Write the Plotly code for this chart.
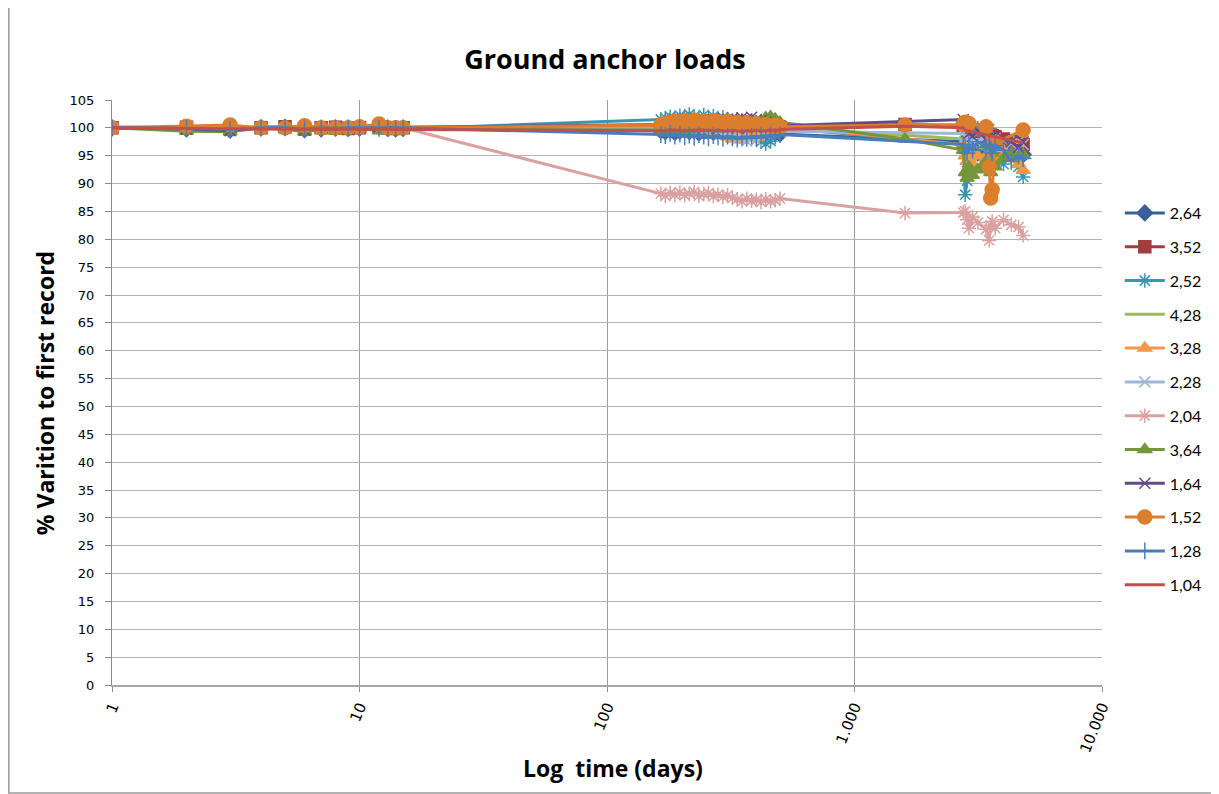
import plotly.graph_objects as go

# ---- data -------------------------------------------------------------
days_early = [1, 2, 3, 4, 5, 6, 7, 8, 9, 10, 12, 13, 14, 15]
days_mid = [165, 172, 180, 188, 197, 206, 215, 225, 235, 246, 257, 269, 281,
            294, 307, 321, 336, 351, 367, 384, 401, 419, 438, 458, 478, 500]
days_late = [1600, 2750, 2800, 2850, 2900, 3000, 3150, 3400, 3500, 3550,
             3600, 3700, 4000, 4300, 4600, 4800]
days = days_early + days_mid + days_late

s_264 = [100.0, 99.8, 99.6, 100.0, 100.1, 99.7, 99.8, 100.0, 99.9, 100.0, 100.2, 99.9, 99.8, 99.9,
         99.5, 99.3, 99.6, 99.2, 99.4, 99.7, 99.3, 99.5, 99.1, 99.4, 99.6, 99.2, 99.5, 99.3, 99.0,
         99.4, 99.2, 98.9, 99.3, 99.1, 99.4, 98.8, 99.0, 99.3, 99.1, 98.9,
         None, 97.5, 96.5, 96.0, 95.5, 96.0, 95.5, 96.2, 95.8, 96.4, 96.0, 95.5, 95.0, 95.8, 95.5, 95.2]
s_352 = [100.0, 100.1, 99.9, 100.0, 100.2, 99.8, 100.0, 100.1, 99.9, 100.0, 100.1, 100.0, 99.9, 100.0,
         100.2, 100.0, 100.3, 99.9, 100.1, 100.4, 100.0, 100.2, 99.8, 100.1, 100.3, 100.0, 99.9, 100.2,
         100.0, 99.8, 100.1, 99.9, 100.2, 99.7, 100.0, 99.8, 100.1, 99.9, 99.7, 100.0,
         100.6, 100.4, 100.2, 100.0, 99.8, 99.6, 99.4, 99.0, 98.8, 98.7, 98.6, 98.4, 98.0, 97.6, 97.3, 97.0]
s_252 = [100.0, 99.7, 99.5, 100.0, 99.9, 99.6, 99.8, 99.9, 100.0, 99.8, 100.0, 99.7, 99.8, 99.8,
         101.5, 101.8, 102.0, 101.6, 102.2, 101.9, 102.4, 102.0, 101.7, 102.3, 101.8, 102.1, 101.5,
         101.9, 101.6, 101.2, 101.4, 100.8, 101.0, 100.5, 99.5, 97.5, 97.2, 97.6, 98.8, 100.0,
         None, 97.0, 88.0, 90.5, 93.0, 99.5, 100.0, 96.0, 99.8, 97.0, 95.0, 94.0, 93.5, 95.5, 93.0, 91.2]
s_428 = [100.0, 100.0, 99.9, 100.0, 100.0, 99.9, 100.0, 100.0, 100.0, 99.9, 100.0, 100.0, 100.0, 100.0,
         100.3, 100.2, 100.4, 100.3, 100.5, 100.2, 100.4, 100.3, 100.6, 100.4, 100.3, 100.5, 100.2,
         100.4, 100.3, 100.1, 100.4, 100.2, 100.3, 100.0, 100.2, 100.1, 100.3, 100.2, 100.0, 100.1,
         None, 98.0, 97.5, 97.0, 96.5, 96.8, 96.5, 96.2, 96.5, 96.3, 96.0, 96.2, 96.0, 95.8, 96.0, 95.8]
s_328 = [100.2, 100.0, 100.3, 100.1, 100.0, 100.2, 100.1, 100.0, 100.2, 100.0, 100.3, 100.1, 100.0, 100.1,
         100.4, 100.6, 100.3, 100.7, 100.5, 100.2, 100.6, 100.4, 100.1, 100.5, 100.3, 100.0, 100.4,
         99.6, 98.4, 98.0, 98.6, 97.8, 98.3, 98.8, 98.2, 99.0, 99.5, 100.0, 100.2, 100.3,
         None, 97.0, 95.0, 94.0, 96.0, 93.5, 95.0, 94.5, 95.5, 94.0, 93.5, 94.5, 96.0, 95.0, 93.5, 92.4]
s_228 = [100.0, 99.9, 100.0, 100.1, 99.9, 100.0, 99.9, 100.0, 100.0, 99.9, 100.0, 100.0, 99.9, 100.0,
         99.6, 99.4, 99.7, 99.5, 99.8, 99.4, 99.6, 99.3, 99.7, 99.5, 99.2, 99.6, 99.4, 99.1, 98.8,
         98.4, 97.9, 98.3, 97.6, 98.1, 97.8, 98.5, 98.9, 99.2, 99.5, 99.4,
         None, 99.0, 98.5, 98.0, 97.5, 98.2, 97.6, 98.4, 97.2, 98.0, 97.5, 98.1, 97.8, 97.2, 97.5, 97.0]
s_204 = [100.0, 100.0, 100.1, 99.9, 100.0, 100.1, 99.9, 100.0, 100.0, 100.1, 100.0, 99.9, 100.0, 100.0,
         88.2, 87.8, 88.3, 88.0, 88.4, 87.9, 88.2, 88.5, 87.8, 88.1, 88.3, 87.7, 88.0, 87.6, 87.9,
         87.4, 87.2, 86.8, 87.3, 86.9, 87.1, 86.7, 87.2, 86.8, 87.0, 87.3,
         84.7, 84.8, 85.0, 83.5, 82.0, 84.0, 83.0, 81.8, 79.8, 82.5, 83.2, 82.0, 83.5, 82.6, 82.2, 80.7]
s_364 = [100.0, 99.4, 99.3, 100.0, 99.8, 99.3, 99.7, 99.4, 99.8, 99.9, 99.5, 99.6, 99.7, 99.8,
         99.6, 99.9, 99.5, 100.1, 99.8, 100.2, 99.7, 100.0, 100.3, 99.9, 100.2, 100.0, 99.8, 100.1,
         100.3, 100.0, 100.2, 100.4, 100.1, 100.5, 100.8, 101.2, 101.8, 102.0, 101.6, 101.0,
         98.0, 96.0, 92.0, 91.0, 93.0, 91.5, 92.5, 94.0, 93.0, 92.0, 95.5, 93.0, 94.5, 95.5, 94.8, 95.2]
s_164 = [100.0, 99.8, 99.5, 100.2, 100.0, 99.6, 100.1, 100.2, 100.1, 100.0, 100.2, 100.1, 100.2, 100.1,
         100.6, 100.9, 100.7, 101.0, 100.8, 101.1, 100.9, 101.2, 101.0, 101.4, 101.2, 101.5, 101.3,
         101.6, 101.4, 101.7, 101.5, 101.8, 101.6, 101.9, 101.5, 101.3, 101.0, 100.8, 100.6, 100.4,
         None, 101.5, 101.0, 100.2, 99.0, 98.5, 99.5, 98.0, 97.5, 98.2, 98.5, 97.0, 98.0, 97.5, 96.5, 97.5]
s_152 = [100.0, 100.3, 100.5, 100.0, 100.0, 100.4, 100.0, 100.0, 100.0, 100.2, 100.7, 100.0, 100.0, 100.0,
         100.5, 100.8, 101.0, 101.2, 100.9, 101.3, 101.1, 101.4, 101.0, 101.2, 100.8, 101.3, 101.1,
         100.9, 101.2, 100.7, 101.0, 100.6, 100.9, 100.5, 100.8, 100.4, 100.6, 100.3, 100.5, 100.2,
         100.5, 100.6, 101.0, 100.5, 100.8, None, None, 100.2, 93.0, 87.4, 88.9, 97.3, None, None, None, 99.6]
s_128 = [100.0, 99.9, 99.7, 100.0, 100.0, 99.8, 100.0, 99.9, 100.0, 100.0, 99.9, 100.0, 99.9, 100.0,
         98.8, 98.6, 99.0, 98.5, 98.9, 98.4, 98.7, 98.3, 98.8, 98.5, 98.2, 98.6, 98.4, 98.1, 98.5,
         98.2, 98.0, 98.4, 98.1, 98.5, 98.2, 98.6, 98.3, 98.7, 98.5, 98.8,
         None, 97.0, 96.5, 95.5, 97.0, 96.0, 97.5, 96.5, 97.0, 96.2, 95.5, 96.8, 96.0, 94.0, 95.0, 94.5]
s_104 = [100.0, 99.9, 99.8, 99.8, 99.8, 99.7, 99.8, 99.7, 99.8, 99.7, 99.8, 99.7, 99.7, 99.7,
         99.6, 99.5, 99.7, 99.5, 99.6, 99.4, 99.6, 99.5, 99.7, 99.5, 99.6, 99.4, 99.6, 99.5, 99.4,
         99.6, 99.5, 99.3, 99.5, 99.4, 99.6, 99.4, 99.5, 99.6, 99.5, 99.7,
         100.3, 100.0, 99.6, None, None, None, None, None, None, None, 98.5, None, 98.0, 97.7, 97.5, 97.3]

series_names = ["2,64", "3,52", "2,52", "4,28", "3,28", "2,28",
                "2,04", "3,64", "1,64", "1,52", "1,28", "1,04"]
series_values = [s_264, s_352, s_252, s_428, s_328, s_228,
                 s_204, s_364, s_164, s_152, s_128, s_104]

x_tickvals = [1, 10, 100, 1000, 10000]
x_ticktext = ["1", "10", "100", "1.000", "10.000"]

# ---- styles -----------------------------------------------------------
colors = ["#3A5F9A", "#A33D3B", "#3A96AF", "#9BBB59", "#F79646", "#9FB6DA",
          "#D9A1A0", "#76963A", "#604A87", "#DB7F2E", "#4A7EBB", "#C0504D"]
symbols = ["diamond", "square", "asterisk-open", None, "triangle-up", "x-thin-open",
           "asterisk-open", "triangle-up", "x-thin-open", "circle", "cross-thin-open", None]
sizes = [12, 12, 12, 0, 12, 11, 12, 12, 11, 14, 12, 0]

# figure sits 8px inside the page (body margin), so sizes are reduced accordingly
W, H = 1211, 786
PL, PR, PT, PB = 104, 1097, 92, 677   # plot area in figure pixels
pw, ph = PR - PL, PB - PT


def px(xf):
    return (xf - PL) / pw


def py(yf):
    return (PB - yf) / ph


fig = go.Figure()
for name, vals, col, sym, sz in zip(series_names, series_values, colors, symbols, sizes):
    if sym is None:
        fig.add_trace(go.Scatter(x=days, y=vals, name=name, mode="lines",
                                 connectgaps=True, legendgroup=name,
                                 line=dict(color=col, width=3)))
    else:
        fig.add_trace(go.Scatter(x=days, y=vals, name=name, mode="lines+markers",
                                 connectgaps=True, legendgroup=name,
                                 line=dict(color=col, width=3),
                                 marker=dict(symbol=sym, size=sz, color=col,
                                             line=dict(color=col, width=1.5))))

fig.update_layout(
    width=W, height=H,
    margin=dict(l=PL, r=W - PR, t=PT, b=H - PB),
    paper_bgcolor="white", plot_bgcolor="white",
    font=dict(family="Lato, sans-serif", color="#000000"),
    title=dict(text="<b>Ground anchor loads</b>", x=597 / W, xanchor="center",
               y=1 - 52 / H, yanchor="middle", yref="container",
               font=dict(family="Open Sans, sans-serif", size=27, color="#000000")),
    showlegend=True,
    legend=dict(x=1.018, xanchor="left", y=py(188), yanchor="top",
                font=dict(family="Lato, sans-serif", size=16, color="#000000"),
                tracegroupgap=10, traceorder="grouped", itemwidth=40,
                bgcolor="rgba(0,0,0,0)"),
    xaxis=dict(type="log", range=[0, 4], tickvals=x_tickvals, ticktext=x_ticktext,
               tickangle=-68, showgrid=True, gridcolor="#9a9a9a", gridwidth=1,
               showline=True, linecolor="#a6a6a6", linewidth=2,
               ticks="outside", ticklen=5, tickcolor="#8c8c8c",
               tickfont=dict(family="DejaVu Sans, sans-serif", size=15, color="#000000"),
               zeroline=False),
    yaxis=dict(range=[0, 105], dtick=5, tick0=0, showgrid=True, gridcolor="#b4b4b4",
               gridwidth=1, showline=True, linecolor="#8c8c8c", linewidth=1,
               ticks="outside", ticklen=6, tickcolor="#8c8c8c", ticklabelstandoff=8,
               tickfont=dict(family="DejaVu Sans, sans-serif", size=13, color="#000000"),
               zeroline=False),
    annotations=[
        dict(text="<b>% Varition to first record</b>", xref="paper", yref="paper",
             x=px(37), y=py(385), textangle=-90, showarrow=False,
             xanchor="center", yanchor="middle",
             font=dict(family="Open Sans, sans-serif", size=23, color="#000000")),
        dict(text="<b>Log\u00a0 time (days)</b>", xref="paper", yref="paper",
             x=px(607), y=py(760), showarrow=False,
             xanchor="center", yanchor="middle",
             font=dict(family="Open Sans, sans-serif", size=23, color="#000000")),
    ],
    shapes=[dict(type="rect", xref="paper", yref="paper",
                 x0=px(0.5), x1=px(W - 1),
                 y0=py(H - 1), y1=py(-3),
                 line=dict(color="#9a9a9a", width=1.5), layer="below")],
)

fig.write_html("out.html")
